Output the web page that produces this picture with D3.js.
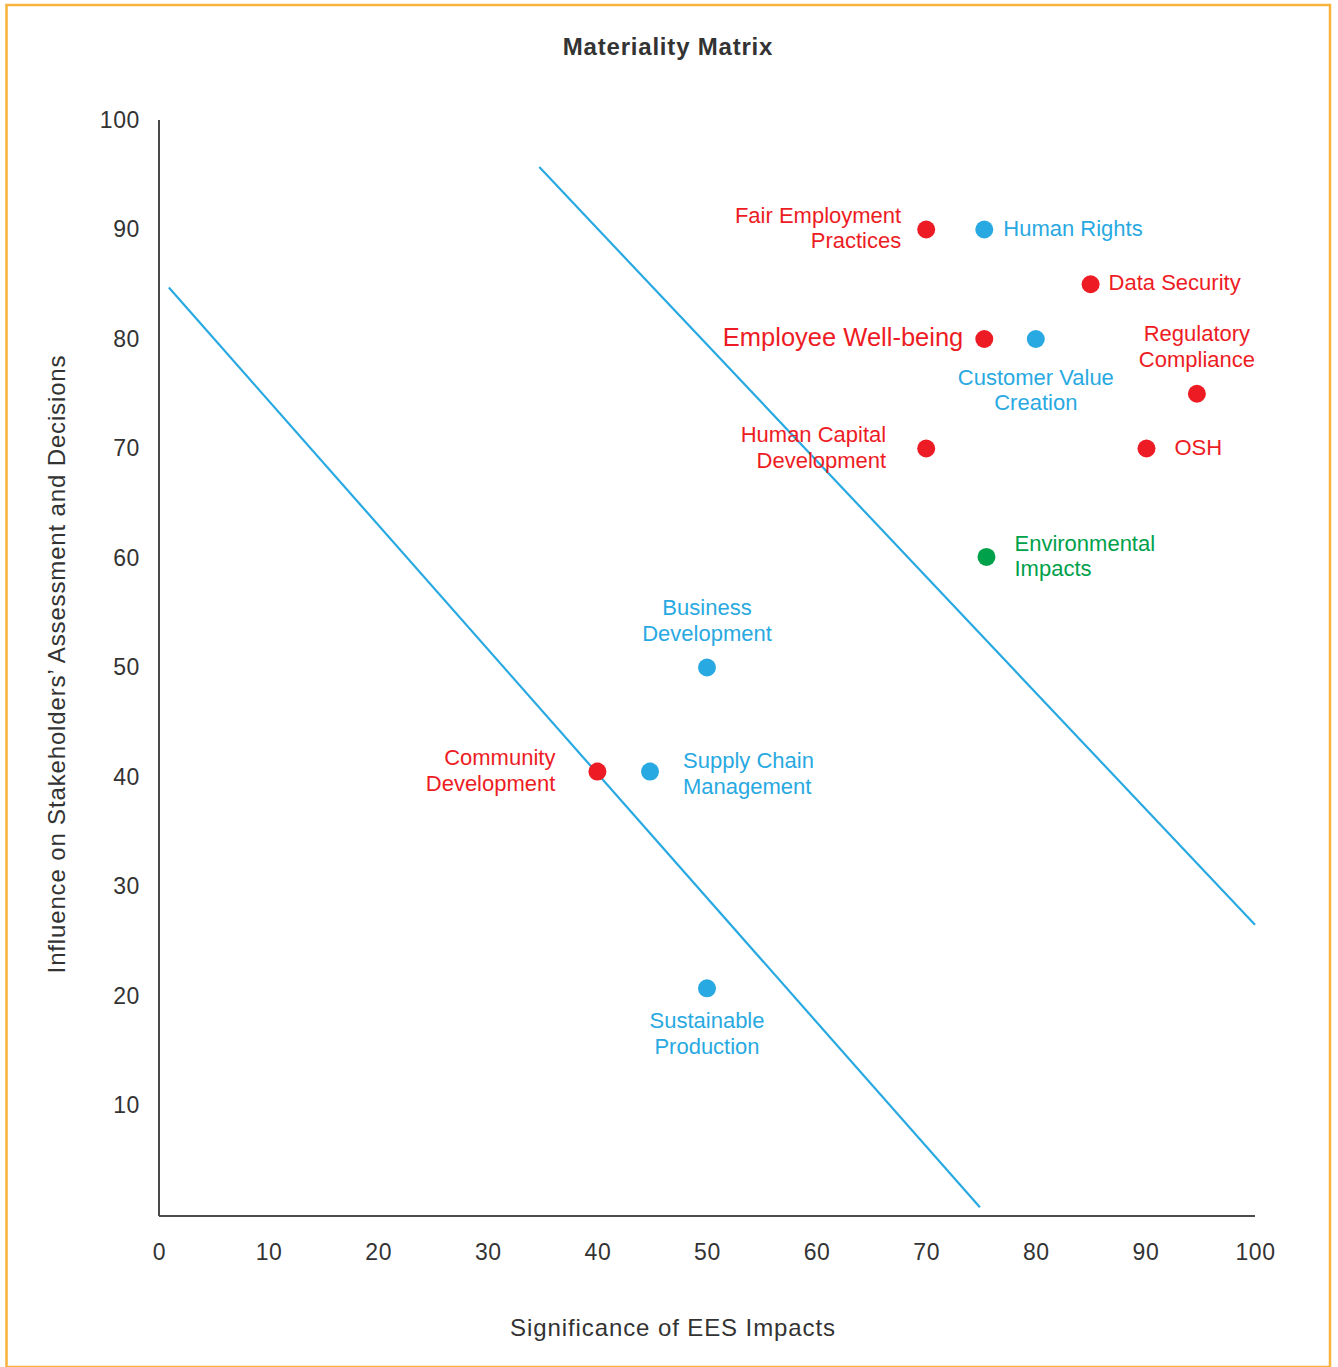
<!DOCTYPE html>
<html>
<head>
<meta charset="utf-8">
<script src="https://cdn.jsdelivr.net/npm/d3@7"></script>
<style>
  html, body { margin: 0; padding: 0; background: #fff; }
  svg { display: block; font-family: "Liberation Sans", Arial, Helvetica, sans-serif; }
</style>
</head>
<body>
<svg id="chart" width="1338" height="1367"></svg>
<script>
// Material topics: name, significance (x), influence (y), group
const topics = ["Fair Employment Practices", "Human Rights", "Data Security", "Employee Well-being",
  "Customer Value Creation", "Regulatory Compliance", "Human Capital Development", "OSH",
  "Environmental Impacts", "Business Development", "Community Development",
  "Supply Chain Management", "Sustainable Production"];
const significance = [70, 75.3, 85, 75.3, 80, 94.7, 70, 90.1, 75.5, 50, 40, 44.8, 50];
const influence    = [90, 90, 85, 80, 80, 75, 70, 70, 60.1, 50, 40.5, 40.5, 20.7];
const groups       = ["social", "governance", "social", "social", "governance", "social",
  "social", "social", "environment", "governance", "social", "governance", "governance"];

// Threshold lines separating materiality bands (x, y in axis units)
const lowerBand = [[0.9, 84.7], [74.9, 0.7]];
const upperBand = [[34.7, 95.7], [100, 26.5]];

const xTicks = [0, 10, 20, 30, 40, 50, 60, 70, 80, 90, 100];
const yTicks = [10, 20, 30, 40, 50, 60, 70, 80, 90, 100];

const groupColor = { social: "#ED1C24", governance: "#29A9E1", environment: "#00A14B" };

// Label layout per topic: text lines, anchor, offsets from the dot, font size
const labelLayout = {
  "Fair Employment Practices": { lines: ["Fair Employment", "Practices"], anchor: "end", dx: -25, dy: -14.5 },
  "Human Rights": { lines: ["Human Rights"], anchor: "start", dx: 19, dy: -1.5 },
  "Data Security": { lines: ["Data Security"], anchor: "start", dx: 18, dy: -1.5 },
  "Employee Well-being": { lines: ["Employee Well-being"], anchor: "end", dx: -21, dy: -2, size: 25.5 },
  "Customer Value Creation": { lines: ["Customer Value", "Creation"], anchor: "middle", dx: 0, dy: 38 },
  "Regulatory Compliance": { lines: ["Regulatory", "Compliance"], anchor: "middle", dx: 0, dy: -60 },
  "Human Capital Development": { lines: ["Human Capital", "Development"], anchor: "end", dx: -40, dy: -14 },
  "OSH": { lines: ["OSH"], anchor: "start", dx: 28, dy: -1.5 },
  "Environmental Impacts": { lines: ["Environmental", "Impacts"], anchor: "start", dx: 28, dy: -14 },
  "Business Development": { lines: ["Business", "Development"], anchor: "middle", dx: 0, dy: -60 },
  "Community Development": { lines: ["Community", "Development"], anchor: "end", dx: -42, dy: -14 },
  "Supply Chain Management": { lines: ["Supply Chain", "Management"], anchor: "start", dx: 33, dy: -11 },
  "Sustainable Production": { lines: ["Sustainable", "Production"], anchor: "middle", dx: 0, dy: 32 }
};

const svg = d3.select("#chart");

// Frame
svg.append("rect")
  .attr("x", 6.5).attr("y", 5).attr("width", 1323.5).attr("height", 1362)
  .attr("fill", "none").attr("stroke", "#F7B33B").attr("stroke-width", 2.5);

const x = d3.scaleLinear().domain([0, 100]).range([159, 1255]);
const y = d3.scaleLinear().domain([0, 100]).range([1215, 120]);

// Title
svg.append("text")
  .attr("x", 668).attr("y", 55)
  .attr("text-anchor", "middle")
  .attr("font-size", 24).attr("font-weight", "bold").attr("fill", "#333")
  .attr("letter-spacing", 0.8)
  .text("Materiality Matrix");

// Axes
const axisColor = "#4a4a4a";
const xAxis = svg.append("g")
  .attr("transform", `translate(0,${y(0) + 1})`)
  .call(d3.axisBottom(x).tickValues(xTicks).tickSize(0).tickPadding(28).tickFormat(d3.format("d")));
const yAxis = svg.append("g")
  .attr("transform", `translate(${x(0)},0)`)
  .call(d3.axisLeft(y).tickValues(yTicks).tickSize(0).tickPadding(19).tickFormat(d3.format("d")));

[xAxis, yAxis].forEach(g => {
  g.select(".domain").attr("stroke", axisColor).attr("stroke-width", 2);
  g.selectAll("text")
    .attr("font-family", "\"Liberation Sans\", Arial, sans-serif")
    .attr("font-size", 23).attr("letter-spacing", 0.6).attr("fill", "#333");
});
xAxis.select(".domain").attr("d", `M${x(0)},0H${x(100)}`);
yAxis.select(".domain").attr("d", `M0,${y(100)}V${y(0) + 1}`);

// Axis titles
svg.append("text")
  .attr("x", 673).attr("y", 1336)
  .attr("text-anchor", "middle")
  .attr("font-size", 24).attr("letter-spacing", 0.9).attr("fill", "#333")
  .text("Significance of EES Impacts");

svg.append("text")
  .attr("transform", "translate(65,664) rotate(-90)")
  .attr("text-anchor", "middle")
  .attr("font-size", 24).attr("letter-spacing", 0.85).attr("fill", "#333")
  .text("Influence on Stakeholders\u2019 Assessment and Decisions");

// Band lines
const line = d3.line().x(d => x(d[0])).y(d => y(d[1]));
svg.append("g").selectAll("path")
  .data([lowerBand, upperBand])
  .join("path")
  .attr("d", line)
  .attr("fill", "none")
  .attr("stroke", "#29A9E1")
  .attr("stroke-width", 2.2);

// Topics
const data = topics.map((name, i) => ({
  name, sx: significance[i], iy: influence[i], group: groups[i]
}));

const pts = svg.append("g").selectAll("g")
  .data(data)
  .join("g")
  .attr("transform", d => `translate(${x(d.sx)},${y(d.iy)})`);

pts.append("circle")
  .attr("r", 9)
  .attr("fill", d => groupColor[d.group]);

pts.each(function (d) {
  const L = labelLayout[d.name];
  const size = L.size || 22;
  const lh = 25.5;
  const t = d3.select(this).append("text")
    .attr("text-anchor", L.anchor)
    .attr("font-size", size)
    .attr("fill", groupColor[d.group]);
  L.lines.forEach((s, k) => {
    t.append("tspan")
      .attr("x", L.dx)
      .attr("y", L.dy + k * lh)
      .attr("dy", "0.35em")
      .text(s);
  });
});
</script>
</body>
</html>
